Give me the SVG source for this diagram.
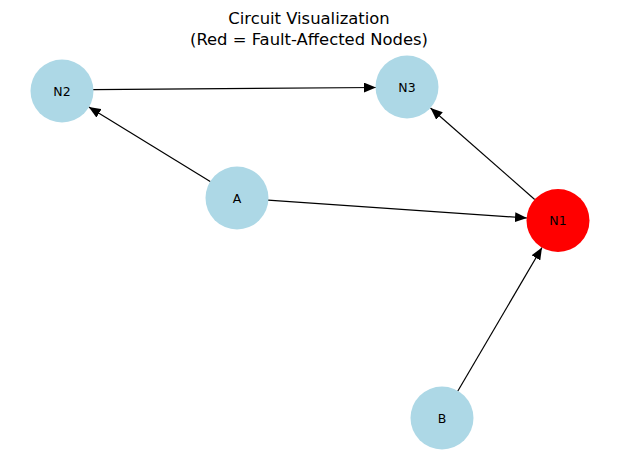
<svg xmlns="http://www.w3.org/2000/svg" width="619" height="463" viewBox="0 0 619 463">
<style>
.title{font-family:"DejaVu Sans",sans-serif;font-size:16.4px;fill:#000;text-anchor:middle}
.node circle{fill:#ADD8E6}
.node.fault circle{fill:#FF0000}
.node text{font-family:"DejaVu Sans",sans-serif;font-size:12.5px;fill:#000;text-anchor:middle;dominant-baseline:central}
.edge{stroke:#000;stroke-width:1.2;fill:none;marker-end:url(#arr)}
</style>
<defs>
<marker id="arr" viewBox="0 0 12 10" refX="12" refY="5" markerWidth="12" markerHeight="10" markerUnits="userSpaceOnUse" orient="auto">
<path d="M0,0 L12,5 L0,10 Z" fill="#000"/>
</marker>
</defs>
<rect width="619" height="463" fill="#fff"/>
<text class="title" x="309" y="24">Circuit Visualization</text>
<text class="title" x="309" y="45">(Red = Fault-Affected Nodes)</text>
<g id="connectors">
<line class="edge" x1="93" y1="89.7" x2="376" y2="87.5"/>
<line class="edge" x1="210.6" y1="181.7" x2="88.8" y2="107"/>
<line class="edge" x1="268" y1="200.1" x2="527" y2="218"/>
<line class="edge" x1="534.7" y1="199.5" x2="430.5" y2="108"/>
<line class="edge" x1="457.7" y1="391.3" x2="542" y2="247.5"/>
</g>
<g id="N2" class="node"><circle cx="62" cy="91" r="31.5"/><text x="62" y="91">N2</text></g>
<g id="N3" class="node"><circle cx="407" cy="87" r="31.5"/><text x="407" y="87">N3</text></g>
<g id="A" class="node"><circle cx="237" cy="198" r="31.5"/><text x="237" y="198">A</text></g>
<g id="N1" class="node fault"><circle cx="558" cy="220.5" r="31.5"/><text x="558" y="220.5">N1</text></g>
<g id="B" class="node"><circle cx="442" cy="418" r="31.5"/><text x="442" y="418">B</text></g>
</svg>
